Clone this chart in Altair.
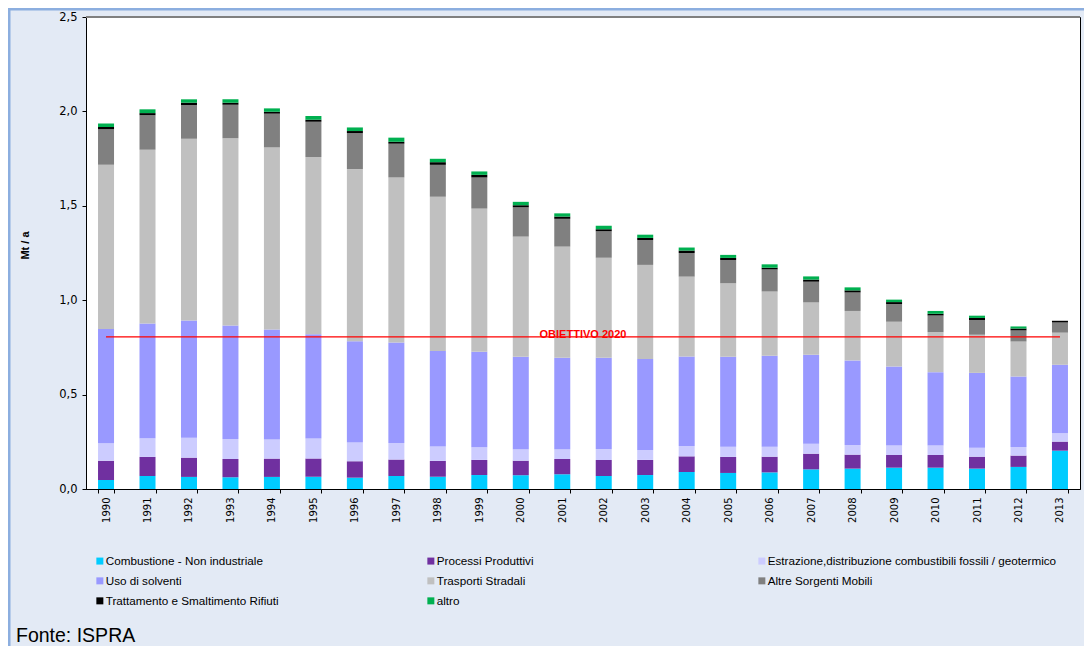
import altair as alt
import pandas as pd

years = [str(y) for y in range(1990, 2014)]

categories = [
    "Combustione - Non industriale",
    "Processi Produttivi",
    "Estrazione,distribuzione combustibili fossili / geotermico",
    "Uso di solventi",
    "Trasporti Stradali",
    "Altre Sorgenti Mobili",
    "Trattamento e Smaltimento Rifiuti",
    "altro",
]
colors = ["#00CCFF", "#7030A0", "#CCCCFF", "#9999FF", "#C0C0C0", "#808080", "#000000", "#00B050"]

combustione = [.048, .069, .064, .062, .064, .065, .060, .069, .065, .074, .073, .078,
               .069, .074, .090, .085, .088, .104, .108, .113, .113, .108, .117, .203]
processi = [.102, .101, .102, .097, .097, .096, .087, .087, .084, .080, .077, .081,
            .085, .080, .083, .085, .083, .083, .074, .067, .067, .063, .060, .048]
estrazione = [.092, .099, .106, .106, .101, .106, .099, .088, .076, .067, .061, .052,
              .058, .053, .055, .054, .053, .053, .051, .050, .050, .048, .046, .044]
solventi = [.605, .608, .621, .601, .583, .552, .536, .532, .506, .506, .489, .484,
            .483, .481, .474, .476, .482, .471, .448, .419, .389, .396, .373, .363]
trasporti = [.870, .920, .962, .992, .964, .939, .912, .874, .817, .758, .637, .589,
             .530, .499, .423, .389, .340, .277, .262, .237, .212, .202, .185, .170]
altre = [.189, .183, .179, .177, .179, .187, .191, .179, .169, .165, .155, .147,
         .140, .132, .125, .124, .117, .110, .098, .094, .088, .078, .059, .054]
trattamento = [.011, .011, .012, .011, .010, .011, .011, .010, .014, .014, .011, .012,
               .011, .011, .013, .011, .009, .011, .011, .010, .009, .011, .010, .009]
altro = [.019, .020, .018, .018, .018, .019, .019, .022, .018, .018, .018, .017,
         .018, .017, .016, .016, .018, .017, .016, .013, .015, .012, .011, .000]

series = [combustione, processi, estrazione, solventi, trasporti, altre, trattamento, altro]

y_ticks = [0, 0.5, 1.0, 1.5, 2.0, 2.5]
obiettivo = 0.806
obiettivo_label = "OBIETTIVO 2020"
fonte = "Fonte: ISPRA"
y_title = "Mt / a"

rows = []
for ci, (cat, vals) in enumerate(zip(categories, series)):
    for yr, v in zip(years, vals):
        rows.append({"anno": yr, "settore": cat, "valore": v, "ordine": ci})
df = pd.DataFrame(rows)

target_df = pd.DataFrame({
    "da": [years[0]], "a": [years[-1]], "valore": [obiettivo],
    "etichetta": [obiettivo_label], "mezzo": [years[11]],
})

x_scale = alt.Scale(domain=years, paddingInner=0.614, paddingOuter=0.29)
y_scale = alt.Scale(domain=[0, 2.5])

sans = "Liberation Sans"

bars = alt.Chart(df).mark_bar().encode(
    x=alt.X("anno:N", scale=x_scale, title=None,
            axis=alt.Axis(labelAngle=-90, labelFont="DejaVu Sans", labelFontSize=10,
                          labelColor="black", tickSize=4, tickColor="black",
                          domainColor="black", labelPadding=4, tickBand="extent")),
    y=alt.Y("valore:Q", stack="zero", scale=y_scale, title=y_title,
            axis=alt.Axis(values=y_ticks, grid=False,
                          labelExpr="replace(format(datum.value, '.1f'), '.', ',')",
                          labelFont="DejaVu Sans", labelFontSize=11.5, labelColor="black",
                          tickSize=4, tickColor="black", domainColor="black", labelPadding=5,
                          titleFont=sans, titleFontSize=11, titleFontWeight="bold",
                          titleColor="black", titleAngle=-90, titleX=-58, titleY=228,
                          titleAlign="center", titleBaseline="alphabetic")),
    color=alt.Color("settore:N", scale=alt.Scale(domain=categories, range=colors),
                    legend=alt.Legend(title=None, orient="none", legendX=8, legendY=538,
                                      direction="horizontal",
                                      columns=3, gridAlign="all", columnPadding=30,
                                      rowPadding=7, symbolType="square", symbolSize=49,
                                      symbolStrokeWidth=0, symbolOffset=0, labelOffset=0,
                                      labelFont=sans, labelFontSize=11.7,
                                      labelColor="black", labelLimit=500, padding=0)),
    order=alt.Order("ordine:Q", sort="ascending"),
)

rule = alt.Chart(target_df).mark_rule(color="#FF0000", strokeWidth=1.3).encode(
    x=alt.X("da:N", scale=x_scale), x2="a:N", y=alt.Y("valore:Q", scale=y_scale)
)

label = alt.Chart(target_df).mark_text(
    color="#FF0000", font=sans, fontSize=11, fontWeight="bold",
    dx=20.7, dy=-2, align="center", baseline="middle"
).encode(x=alt.X("mezzo:N", scale=x_scale), y=alt.Y("valore:Q", scale=y_scale), text="etichetta:N")

top_border = alt.Chart(pd.DataFrame({"v": [2.5]})).mark_rule(color="#808080", strokeWidth=2).encode(
    y=alt.Y("v:Q", scale=y_scale), x=alt.value(0), x2=alt.value(994)
)

frame_top = alt.Chart(pd.DataFrame({"v": [0]})).mark_rule(color="#8CAEDF", strokeWidth=3).encode(
    y=alt.value(-8), x=alt.value(-78), x2=alt.value(1000)
)
frame_left = alt.Chart(pd.DataFrame({"v": [0]})).mark_rule(color="#8CAEDF", strokeWidth=3).encode(
    x=alt.value(-77), y=alt.value(-9), y2=alt.value(640)
)

fonte_text = alt.Chart(pd.DataFrame({"t": [fonte]})).mark_text(
    font=sans, fontSize=19.5, align="left", baseline="middle", color="black"
).encode(text="t:N", x=alt.value(-70), y=alt.value(619))

chart = alt.layer(bars, rule, label, top_border, frame_top, frame_left, fonte_text).properties(
    width=994, height=472,
    autosize=alt.AutoSizeParams(type="none"),
    padding={"left": 78, "top": 9, "right": 4, "bottom": 157},
    background="#E3EAF5",
).configure_view(fill="white", stroke="black", strokeWidth=1)

chart.save("out.html", embed_options={"renderer": "svg", "actions": False})
